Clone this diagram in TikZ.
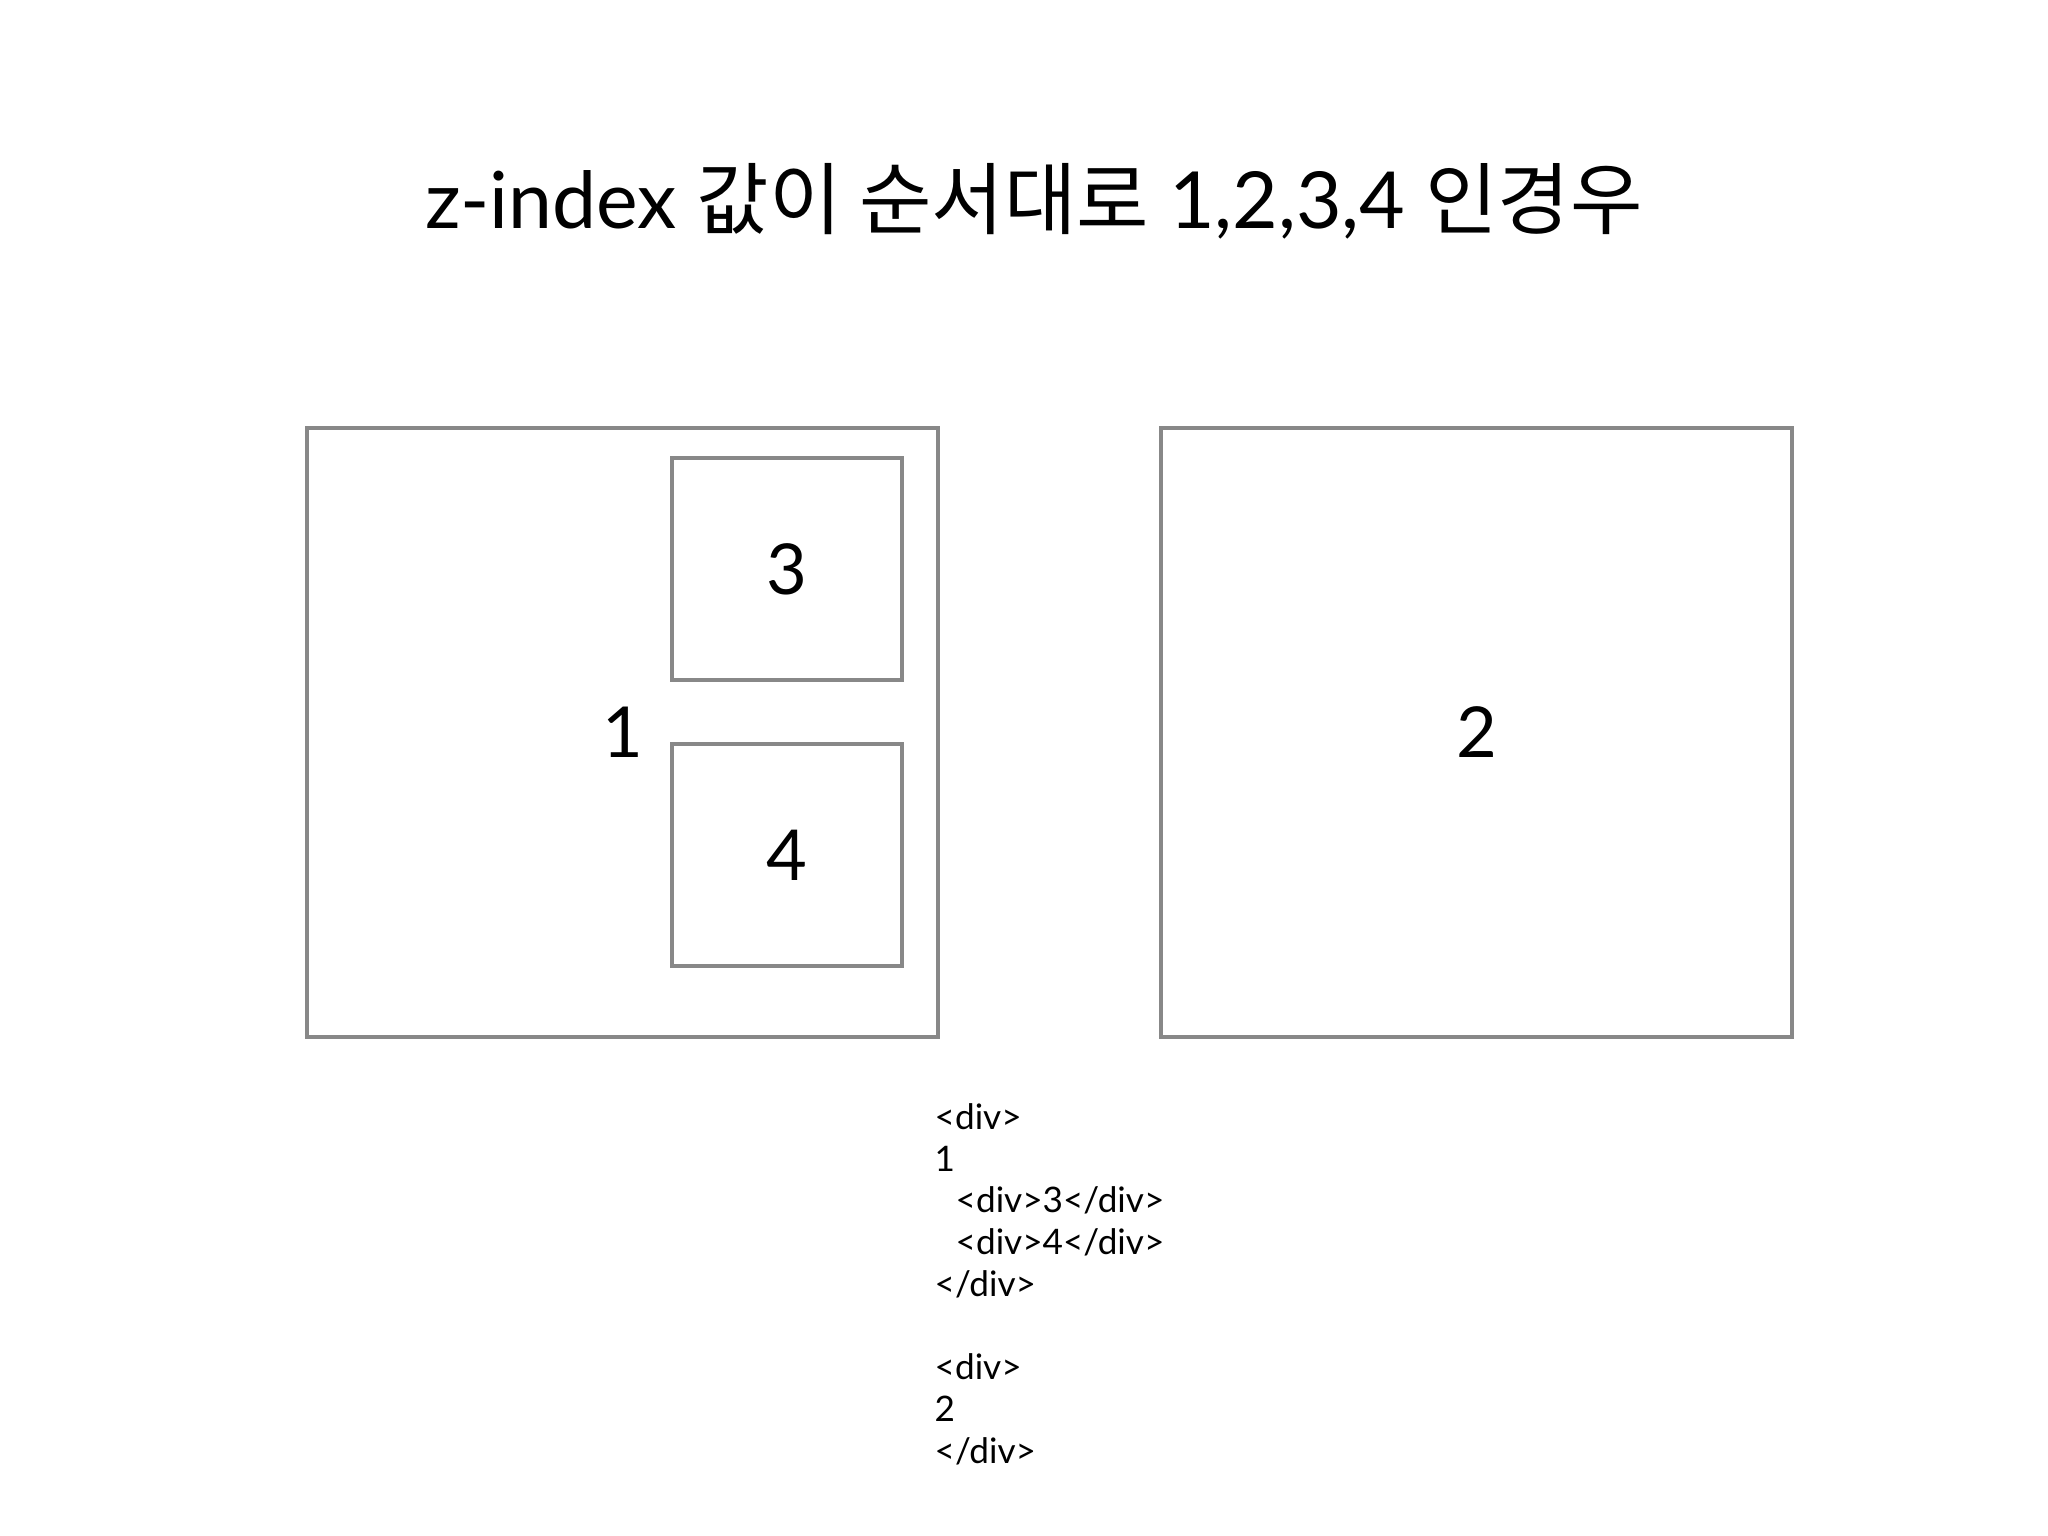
\documentclass[tikz,border=0pt]{standalone}
\usepackage{fontspec}
\setmainfont{Lato}
\newfontfamily\kr{Noto Sans CJK KR}
\usepackage{xcolor}
\definecolor{boxgray}{HTML}{888888}

\tikzset{
  divbox/.style={draw=boxgray, line width=1.2pt, inner sep=0pt, font=\fontsize{20}{24}\selectfont},
}

\begin{document}
\begin{tikzpicture}[x=1cm,y=-1cm]
            \useasboundingbox (0,0) rectangle (20.48,15.36);

            % Title
            \node[anchor=base] (title) at (10.34,2.29) {\fontsize{22.4}{27}\selectfont z-index {\kr 값이 순서대로} 1,2,3,4 {\kr 인경우}};

            % Outer divs
            \node[divbox, minimum width=6.31cm, minimum height=6.09cm] (one) at (6.225,7.325) {1};
            \node[divbox, minimum width=6.31cm, minimum height=6.09cm] (two) at (14.765,7.325) {2};

            % Inner divs
            \node[divbox, minimum width=2.30cm, minimum height=2.22cm] (three) at (7.87,5.69) {3};
            \node[divbox, minimum width=2.30cm, minimum height=2.22cm] (four) at (7.87,8.55) {4};

            % Markup
            \node[anchor=north west, inner sep=0pt, align=left, font=\fontsize{10}{11.86}\selectfont] (code) at (9.34,11.03) {%
              <div>\\
              1\\
              \hspace*{0.21cm}<div>3</div>\\
              \hspace*{0.21cm}<div>4</div>\\
              </div>\\
              \mbox{}\\
              <div>\\
              2\\
              </div>};
\end{tikzpicture}
\end{document}
